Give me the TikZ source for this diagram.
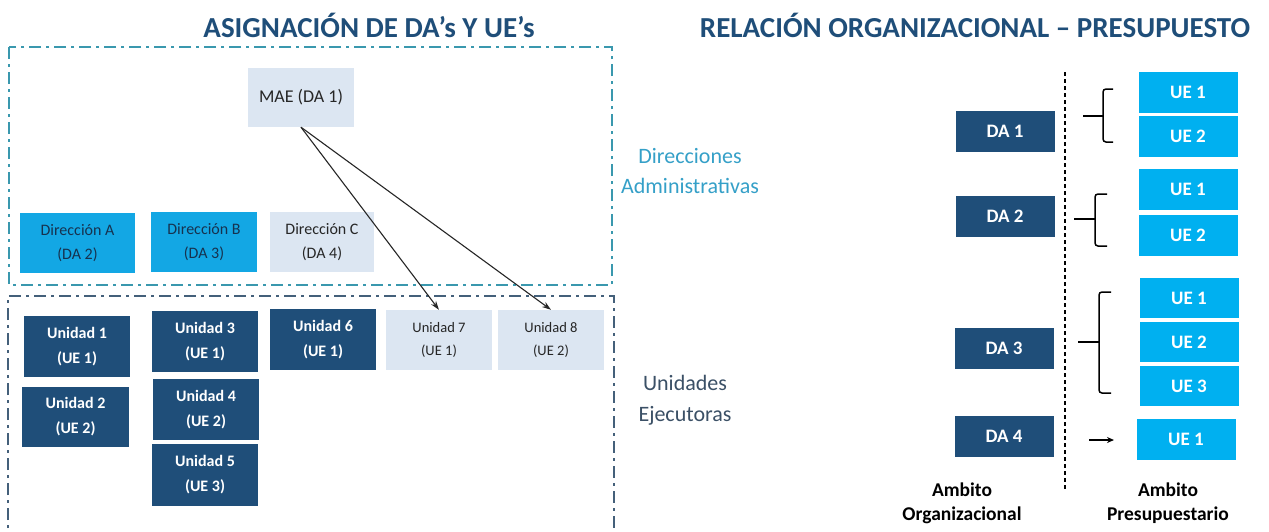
\documentclass[tikz,border=0pt]{standalone}
\usepackage{fontspec}
\setmainfont{Carlito}
\usetikzlibrary{arrows.meta}
\definecolor{navy}{HTML}{1F4E79}
\definecolor{cyanbx}{HTML}{00B0F0}
\definecolor{dircyan}{HTML}{13A7E4}
\definecolor{lightbx}{HTML}{DCE6F2}
\definecolor{framea}{HTML}{3A98AE}
\definecolor{frameb}{HTML}{44607A}
\definecolor{dirtxt}{HTML}{35A0C8}
\definecolor{unitxt}{HTML}{3B5066}
\definecolor{darktxt}{HTML}{17324F}
\definecolor{graytxt}{HTML}{262626}
\tikzset{
  bx/.style={rectangle, inner sep=0pt, align=center},
  sz/.style 2 args={minimum width=#1, minimum height=#2},
  darkbx/.style={bx, fill=navy, text=white, font=\bfseries\fontsize{16}{25}\selectfont},
  dirbx/.style={bx, fill=dircyan, text=darktxt, font=\fontsize{16}{24}\selectfont},
  lightbx/.style={bx, fill=lightbx, text=graytxt, font=\fontsize{16}{24}\selectfont},
  smallbx/.style={bx, fill=lightbx, text=graytxt, font=\fontsize{14.5}{23}\selectfont},
  dabx/.style={bx, fill=navy, text=white, font=\bfseries\fontsize{19}{22}\selectfont, minimum width=99, minimum height=41},
  uebx/.style={bx, fill=cyanbx, text=white, font=\bfseries\fontsize{19}{22}\selectfont, minimum width=99, minimum height=41},
  titlefont/.style={text=navy, font=\bfseries\fontsize{29}{32}\selectfont, anchor=base, inner sep=0pt},
  framestyle/.style={line width=1.5pt, dash pattern=on 12pt off 5pt on 3pt off 5pt},
  bracestyle/.style={line width=1.5pt, black, rounded corners=3pt},
  arr/.style={draw=graytxt, line width=1.1pt, -{Stealth[length=9pt,width=6pt]}},
}
\begin{document}
\begin{tikzpicture}[x=1pt,y=-1pt]
\useasboundingbox (0,0) rectangle (1269,531);
\fill[white] (0,0) rectangle (1269,531);

% titles
\node[titlefont] (t1) at (369,37) {ASIGNACIÓN DE DA’s Y UE’s};
\node[titlefont] (t2) at (975,37) {RELACIÓN ORGANIZACIONAL – PRESUPUESTO};

% frames
\draw[framestyle, framea] (9,47) rectangle (612,285);
\draw[framestyle, frameb] (8,545) -- (8,296) -- (614,296) -- (614,545);

% left diagram
\node[lightbx, sz={106}{59}, font=\fontsize{18}{24}\selectfont] (mae) at (301,97.5) {MAE (DA 1)};
\node[dirbx, sz={115}{60}] (dA) at (77.5,243) {Dirección A\\(DA 2)};
\node[dirbx, sz={106}{60}] (dB) at (204,242) {Dirección B\\(DA 3)};
\node[lightbx, sz={104}{60}] (dC) at (322,242) {Dirección C\\(DA 4)};

\node[darkbx, sz={106}{61}] (u1) at (77,346.5) {Unidad 1\\(UE 1)};
\node[darkbx, sz={107}{60}] (u2) at (75.5,417) {Unidad 2\\(UE 2)};
\node[darkbx, sz={106}{61}] (u3) at (205,341.5) {Unidad 3\\(UE 1)};
\node[darkbx, sz={106}{61}] (u4) at (206,409.5) {Unidad 4\\(UE 2)};
\node[darkbx, sz={106}{62}] (u5) at (205,475) {Unidad 5\\(UE 3)};
\node[darkbx, sz={106}{61}] (u6) at (323,339.5) {Unidad 6\\(UE 1)};
\node[smallbx, sz={106}{60}] (u7) at (439,340) {Unidad 7\\(UE 1)};
\node[smallbx, sz={106}{60}] (u8) at (551,340) {Unidad 8\\(UE 2)};

\draw[arr] (mae.south) -- (u7.north);
\draw[arr] (mae.south) -- (u8.north);

% right diagram
\node[anchor=base, align=center, text=dirtxt, font=\fontsize{22}{30}\selectfont, inner sep=0pt] (ldir) at (690,193) {Direcciones\\Administrativas};
\node[anchor=base, align=center, text=unitxt, font=\fontsize{22}{31}\selectfont, inner sep=0pt] (luni) at (685,421) {Unidades\\Ejecutoras};

\coordinate (vtop) at (1065,72);
\coordinate (vbot) at (1065,490);
\draw[black, line width=1.2pt, dash pattern=on 4pt off 3pt] (vtop) -- (vbot);

\node[dabx] (da1) at (1005,131.5) {DA 1};
\node[dabx] (da2) at (1005,216.5) {DA 2};
\node[dabx] (da3) at (1004,348.5) {DA 3};
\node[dabx] (da4) at (1004,436) {DA 4};

\node[uebx] (g1a) at (1188,92.5) {UE 1};
\node[uebx] (g1b) at (1188,136.5) {UE 2};
\node[uebx] (g2a) at (1188,189) {UE 1};
\node[uebx] (g2b) at (1188,235) {UE 2};
\node[uebx, minimum height=40] (g3a) at (1189,298) {UE 1};
\node[uebx, minimum height=40] (g3b) at (1189,342) {UE 2};
\node[uebx, minimum height=40] (g3c) at (1189,386) {UE 3};
\node[uebx] (g4a) at (1186,439.5) {UE 1};

% braces
\draw[bracestyle] (1113,89) -- (1103,89) -- (1103,142) -- (1113,142);
\draw[line width=1.5pt] (1083,116) -- (1103,116);
\draw[bracestyle] (1107,194) -- (1095,194) -- (1095,246) -- (1107,246);
\draw[line width=1.5pt] (1074,219) -- (1095,219);
\draw[bracestyle] (1111,292) -- (1099,292) -- (1099,393) -- (1111,393);
\draw[line width=1.5pt] (1078,342) -- (1099,342);

\coordinate (a4s) at (1089,440);
\coordinate (a4e) at (1114,440);
\draw[line width=1.5pt, -{Stealth[length=7pt,width=6pt]}] (a4s) -- (a4e);

\node[anchor=base, align=center, font=\bfseries\fontsize{19.5}{24}\selectfont, inner sep=0pt] (lorg) at (962,520) {Ambito\\Organizacional};
\node[anchor=base, align=center, font=\bfseries\fontsize{19.5}{24}\selectfont, inner sep=0pt] (lpre) at (1168,520) {Ambito\\Presupuestario};
\end{tikzpicture}
\end{document}
